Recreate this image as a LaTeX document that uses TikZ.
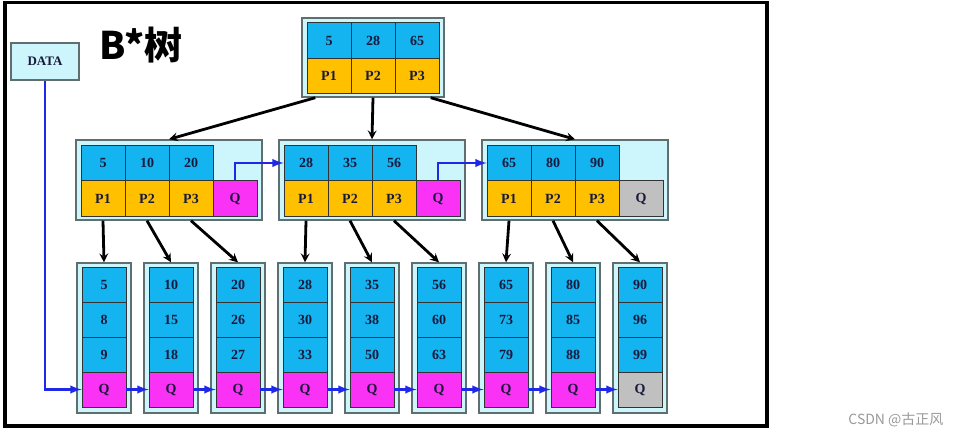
\documentclass[tikz,border=0pt]{standalone}
\usepackage{fontspec}
\setmainfont{Liberation Serif}
\newfontfamily\cjk{Noto Sans CJK SC}
\definecolor{keyblue}{RGB}{20,180,240}
\definecolor{ptryellow}{RGB}{255,192,0}
\definecolor{qpink}{RGB}{250,50,245}
\definecolor{qgray}{RGB}{192,192,192}
\definecolor{boxcyan}{RGB}{205,245,252}
\definecolor{boxline}{RGB}{95,110,110}
\definecolor{linkblue}{RGB}{30,40,230}
\definecolor{celltext}{RGB}{25,25,60}
\tikzset{%
  cell/.style = {rectangle,draw=black!80,line width=0.9pt,minimum width=44pt,
        minimum height=35.5pt,inner sep=0pt,text=celltext,
        font=\fontsize{14}{14}\selectfont\bfseries},
  keycell/.style = {cell,fill=keyblue},
  ptrcell/.style = {cell,fill=ptryellow},
  box/.style = {rectangle,draw=boxline,fill=boxcyan,line width=1.4pt,inner sep=0pt},
  down/.style = {-stealth,line width=2.8pt},
  link/.style = {-latex,linkblue,line width=2.8pt}
}

\begin{document}
\begin{tikzpicture}[x=1pt,y=-1pt]
  \useasboundingbox (0,0) rectangle (958,436);
  \draw[line width=3.2pt] (5,2.5) rectangle (767,426);
  \node[anchor=west,inner sep=0pt,font=\cjk\bfseries\fontsize{38}{38}\selectfont] (title) at (99,45) {B*树};
  \node[box,minimum width=68pt,minimum height=37pt,text=celltext,
    font=\fontsize{13}{13}\selectfont\bfseries] (data) at (45,61.5) {DATA};
  % root
  \node[box,minimum width=142pt,minimum height=79pt] (rf) at (373,57.5) {};
  \foreach \v/\p [count=\i] in {5/P1,28/P2,65/P3}{
    \node[keycell] (rk\i) at ({285+44*\i},40.5) {\v};
    \node[ptrcell] (rp\i) at ({285+44*\i},76) {\p};
  }
  % inner nodes
  \foreach \a/\b/\c/\q [count=\i] in {5/10/20/qpink,28/35/56/qpink,65/80/90/qgray}{
    \node[box,minimum width=186pt,minimum height=80pt] (if\i) at ({-34+203*\i},180) {};
    \node[keycell] (ik\i1) at ({-100+203*\i},163) {\a};
    \node[keycell] (ik\i2) at ({-56+203*\i},163) {\b};
    \node[keycell] (ik\i3) at ({-12+203*\i},163) {\c};
    \node[ptrcell] (ip\i1) at ({-100+203*\i},198.5) {P1};
    \node[ptrcell] (ip\i2) at ({-56+203*\i},198.5) {P2};
    \node[ptrcell] (ip\i3) at ({-12+203*\i},198.5) {P3};
    \node[cell,fill=\q] (iq\i) at ({32+203*\i},198.5) {Q};
  }
  % leaves
  \foreach \a/\b/\c/\q [count=\i] in {5/8/9/qpink,10/15/18/qpink,20/26/27/qpink,
      28/30/33/qpink,35/38/50/qpink,56/60/63/qpink,65/73/79/qpink,
      80/85/88/qpink,90/96/99/qgray}{
    \node[box,minimum width=54pt,minimum height=150pt] (lf\i) at ({37+67*\i},338) {};
    \node[keycell,minimum height=35pt] (la\i) at ({37+67*\i},284.5) {\a};
    \node[keycell,minimum height=35pt] (lb\i) at ({37+67*\i},319.5) {\b};
    \node[keycell,minimum height=35pt] (lc\i) at ({37+67*\i},354.5) {\c};
    \node[cell,minimum height=35pt,fill=\q] (lq\i) at ({37+67*\i},389.5) {Q};
  }
  \draw[down] ([xshift=14pt]rf.south west) -- (if1.north);
  \draw[down] (rf.south) -- (if2.north);
  \draw[down] ([xshift=-14pt]rf.south east) -- (if3.north);
  \foreach \i in {1,2,3}{
    \foreach \k in {1,2,3}{
      \pgfmathtruncatemacro\n{3*(\i-1)+\k}
      \draw[down] (ip\i\k.south |- if\i.south) -- (lf\n.north);
    }
  }
  \draw[link] (iq1.north) |- (ik21.west);
  \draw[link] (iq2.north) |- (ik31.west);
  \foreach \i [evaluate=\i as \j using int(\i+1)] in {1,...,8}
    \draw[link] (lq\i.east) -- (lq\j.west);
  \draw[link] (data.south) |- (lq1.west);
  \node[anchor=east,text=gray!80,font=\cjk\fontsize{14}{14}\selectfont] (mark) at (947,420) {CSDN @古正风};
\end{tikzpicture}
\end{document}
